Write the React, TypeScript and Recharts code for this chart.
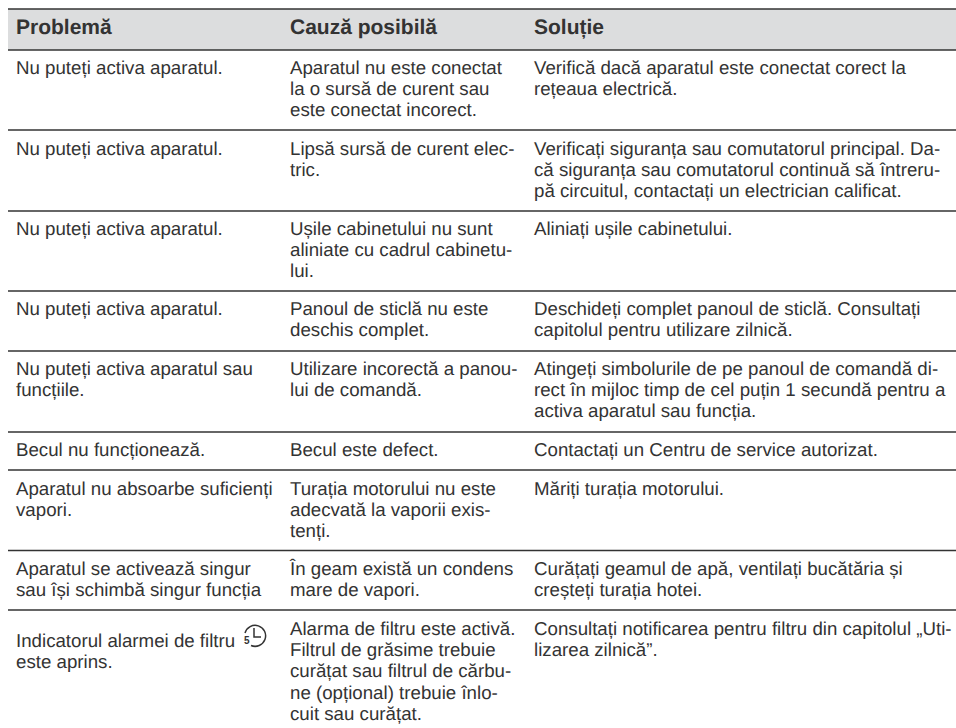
import { ScatterChart, Scatter, XAxis, YAxis, ReferenceArea, ReferenceLine } from 'recharts'

const WIDTH = 956
const HEIGHT = 728
const INK = '#333333'
const FONT = '"Liberation Sans", Arial, sans-serif'

const headers = ['Problemă', 'Cauză posibilă', 'Soluție']
const columnX = [16, 290, 534]

const problems = [
  ['Nu puteți activa aparatul.'],
  ['Nu puteți activa aparatul.'],
  ['Nu puteți activa aparatul.'],
  ['Nu puteți activa aparatul.'],
  ['Nu puteți activa aparatul sau', 'funcțiile.'],
  ['Becul nu funcționează.'],
  ['Aparatul nu absoarbe suficienți', 'vapori.'],
  ['Aparatul se activează singur', 'sau își schimbă singur funcția'],
  ['Indicatorul alarmei de filtru', 'este aprins.'],
]
const causes = [
  ['Aparatul nu este conectat', 'la o sursă de curent sau', 'este conectat incorect.'],
  ['Lipsă sursă de curent elec-', 'tric.'],
  ['Ușile cabinetului nu sunt', 'aliniate cu cadrul cabinetu-', 'lui.'],
  ['Panoul de sticlă nu este', 'deschis complet.'],
  ['Utilizare incorectă a panou-', 'lui de comandă.'],
  ['Becul este defect.'],
  ['Turația motorului nu este', 'adecvată la vaporii exis-', 'tenți.'],
  ['În geam există un condens', 'mare de vapori.'],
  ['Alarma de filtru este activă.', 'Filtrul de grăsime trebuie', 'curățat sau filtrul de cărbu-', 'ne (opțional) trebuie înlo-', 'cuit sau curățat.'],
]
const solutions = [
  ['Verifică dacă aparatul este conectat corect la', 'rețeaua electrică.'],
  ['Verificați siguranța sau comutatorul principal. Da-', 'că siguranța sau comutatorul continuă să întreru-', 'pă circuitul, contactați un electrician calificat.'],
  ['Aliniați ușile cabinetului.'],
  ['Deschideți complet panoul de sticlă. Consultați', 'capitolul pentru utilizare zilnică.'],
  ['Atingeți simbolurile de pe panoul de comandă di-', 'rect în mijloc timp de cel puțin 1 secundă pentru a', 'activa aparatul sau funcția.'],
  ['Contactați un Centru de service autorizat.'],
  ['Măriți turația motorului.'],
  ['Curățați geamul de apă, ventilați bucătăria și', 'creșteți turația hotei.'],
  ['Consultați notificarea pentru filtru din capitolul „Uti-', 'lizarea zilnică”.'],
]

// first baseline of each row, the last problem cell sits lower than its neighbours
const rowBaselines = [74, 155, 235, 315, 375, 456, 495, 575, 635]
const problemBaselines = [74, 155, 235, 315, 375, 456, 495, 575, 647]
const lineStep = 21.2
const headerBaseline = 34

const headerBand = [9, 50]
const ruleYs = [9, 50, 130, 211, 291, 351, 432, 470, 550.5, 610]
const iconPoint = [{ x: 255, y: 636 }]

type Cell = { x: number; y: number; label: string }

const cellLines = (rows: string[][], x: number, baselines: number[]): Cell[] =>
  rows.flatMap((lines, r) => lines.map((label, i) => ({ x, y: baselines[r] + i * lineStep, label })))

const headerCells: Cell[] = headers.map((label, i) => ({ x: columnX[i], y: headerBaseline, label }))
const bodyCells: Cell[] = [
  ...cellLines(problems, columnX[0], problemBaselines),
  ...cellLines(causes, columnX[1], rowBaselines),
  ...cellLines(solutions, columnX[2], rowBaselines),
]

function BodyText(props: any) {
  return (
    <text x={props.cx} y={props.cy} fontFamily={FONT} fontSize={18.7} fill={INK} textRendering="geometricPrecision">
      {props.payload.label}
    </text>
  )
}

function HeaderText(props: any) {
  return (
    <text x={props.cx} y={props.cy} fontFamily={FONT} fontSize={21} fontWeight={700} fill={INK} textRendering="geometricPrecision">
      {props.payload.label}
    </text>
  )
}

// timer symbol: open circle with clock hands and a small 5
function AlarmIcon({ cx, cy }: any) {
  return (
    <g fill="none" stroke={INK} strokeWidth={1.5}>
      <path d={`M ${cx - 10} ${cy - 3} A 10.5 10.5 0 1 1 ${cx - 4} ${cy + 9.5}`} />
      <path d={`M ${cx - 1} ${cy - 8} V ${cy + 1} H ${cx + 6}`} />
      <text x={cx - 11} y={cy + 8} fontFamily={FONT} fontSize={10} fontWeight={700} fill={INK} stroke="none">
        5
      </text>
    </g>
  )
}

export default function App() {
  return (
    <div style={{ position: 'absolute', left: 0, top: 0 }}>
      <ScatterChart width={WIDTH} height={HEIGHT} margin={{ top: 0, right: 0, bottom: 0, left: 0 }}>
        <XAxis type="number" dataKey="x" domain={[0, WIDTH]} hide />
        <YAxis type="number" dataKey="y" domain={[0, HEIGHT]} reversed hide />
        <ReferenceArea
          x1={8}
          x2={WIDTH}
          y1={headerBand[0]}
          y2={headerBand[1]}
          fill="#dcddde"
          fillOpacity={1}
          stroke="none"
        />
        {ruleYs.map(y => (
          <ReferenceLine
            key={y}
            segment={[{ x: 8, y }, { x: WIDTH, y }]}
            stroke="#333333"
            strokeWidth={1.6}
          />
        ))}
        <Scatter data={headerCells} shape={HeaderText} isAnimationActive={false} />
        <Scatter data={bodyCells} shape={BodyText} isAnimationActive={false} />
        <Scatter data={iconPoint} shape={AlarmIcon} isAnimationActive={false} />
      </ScatterChart>
    </div>
  )
}
